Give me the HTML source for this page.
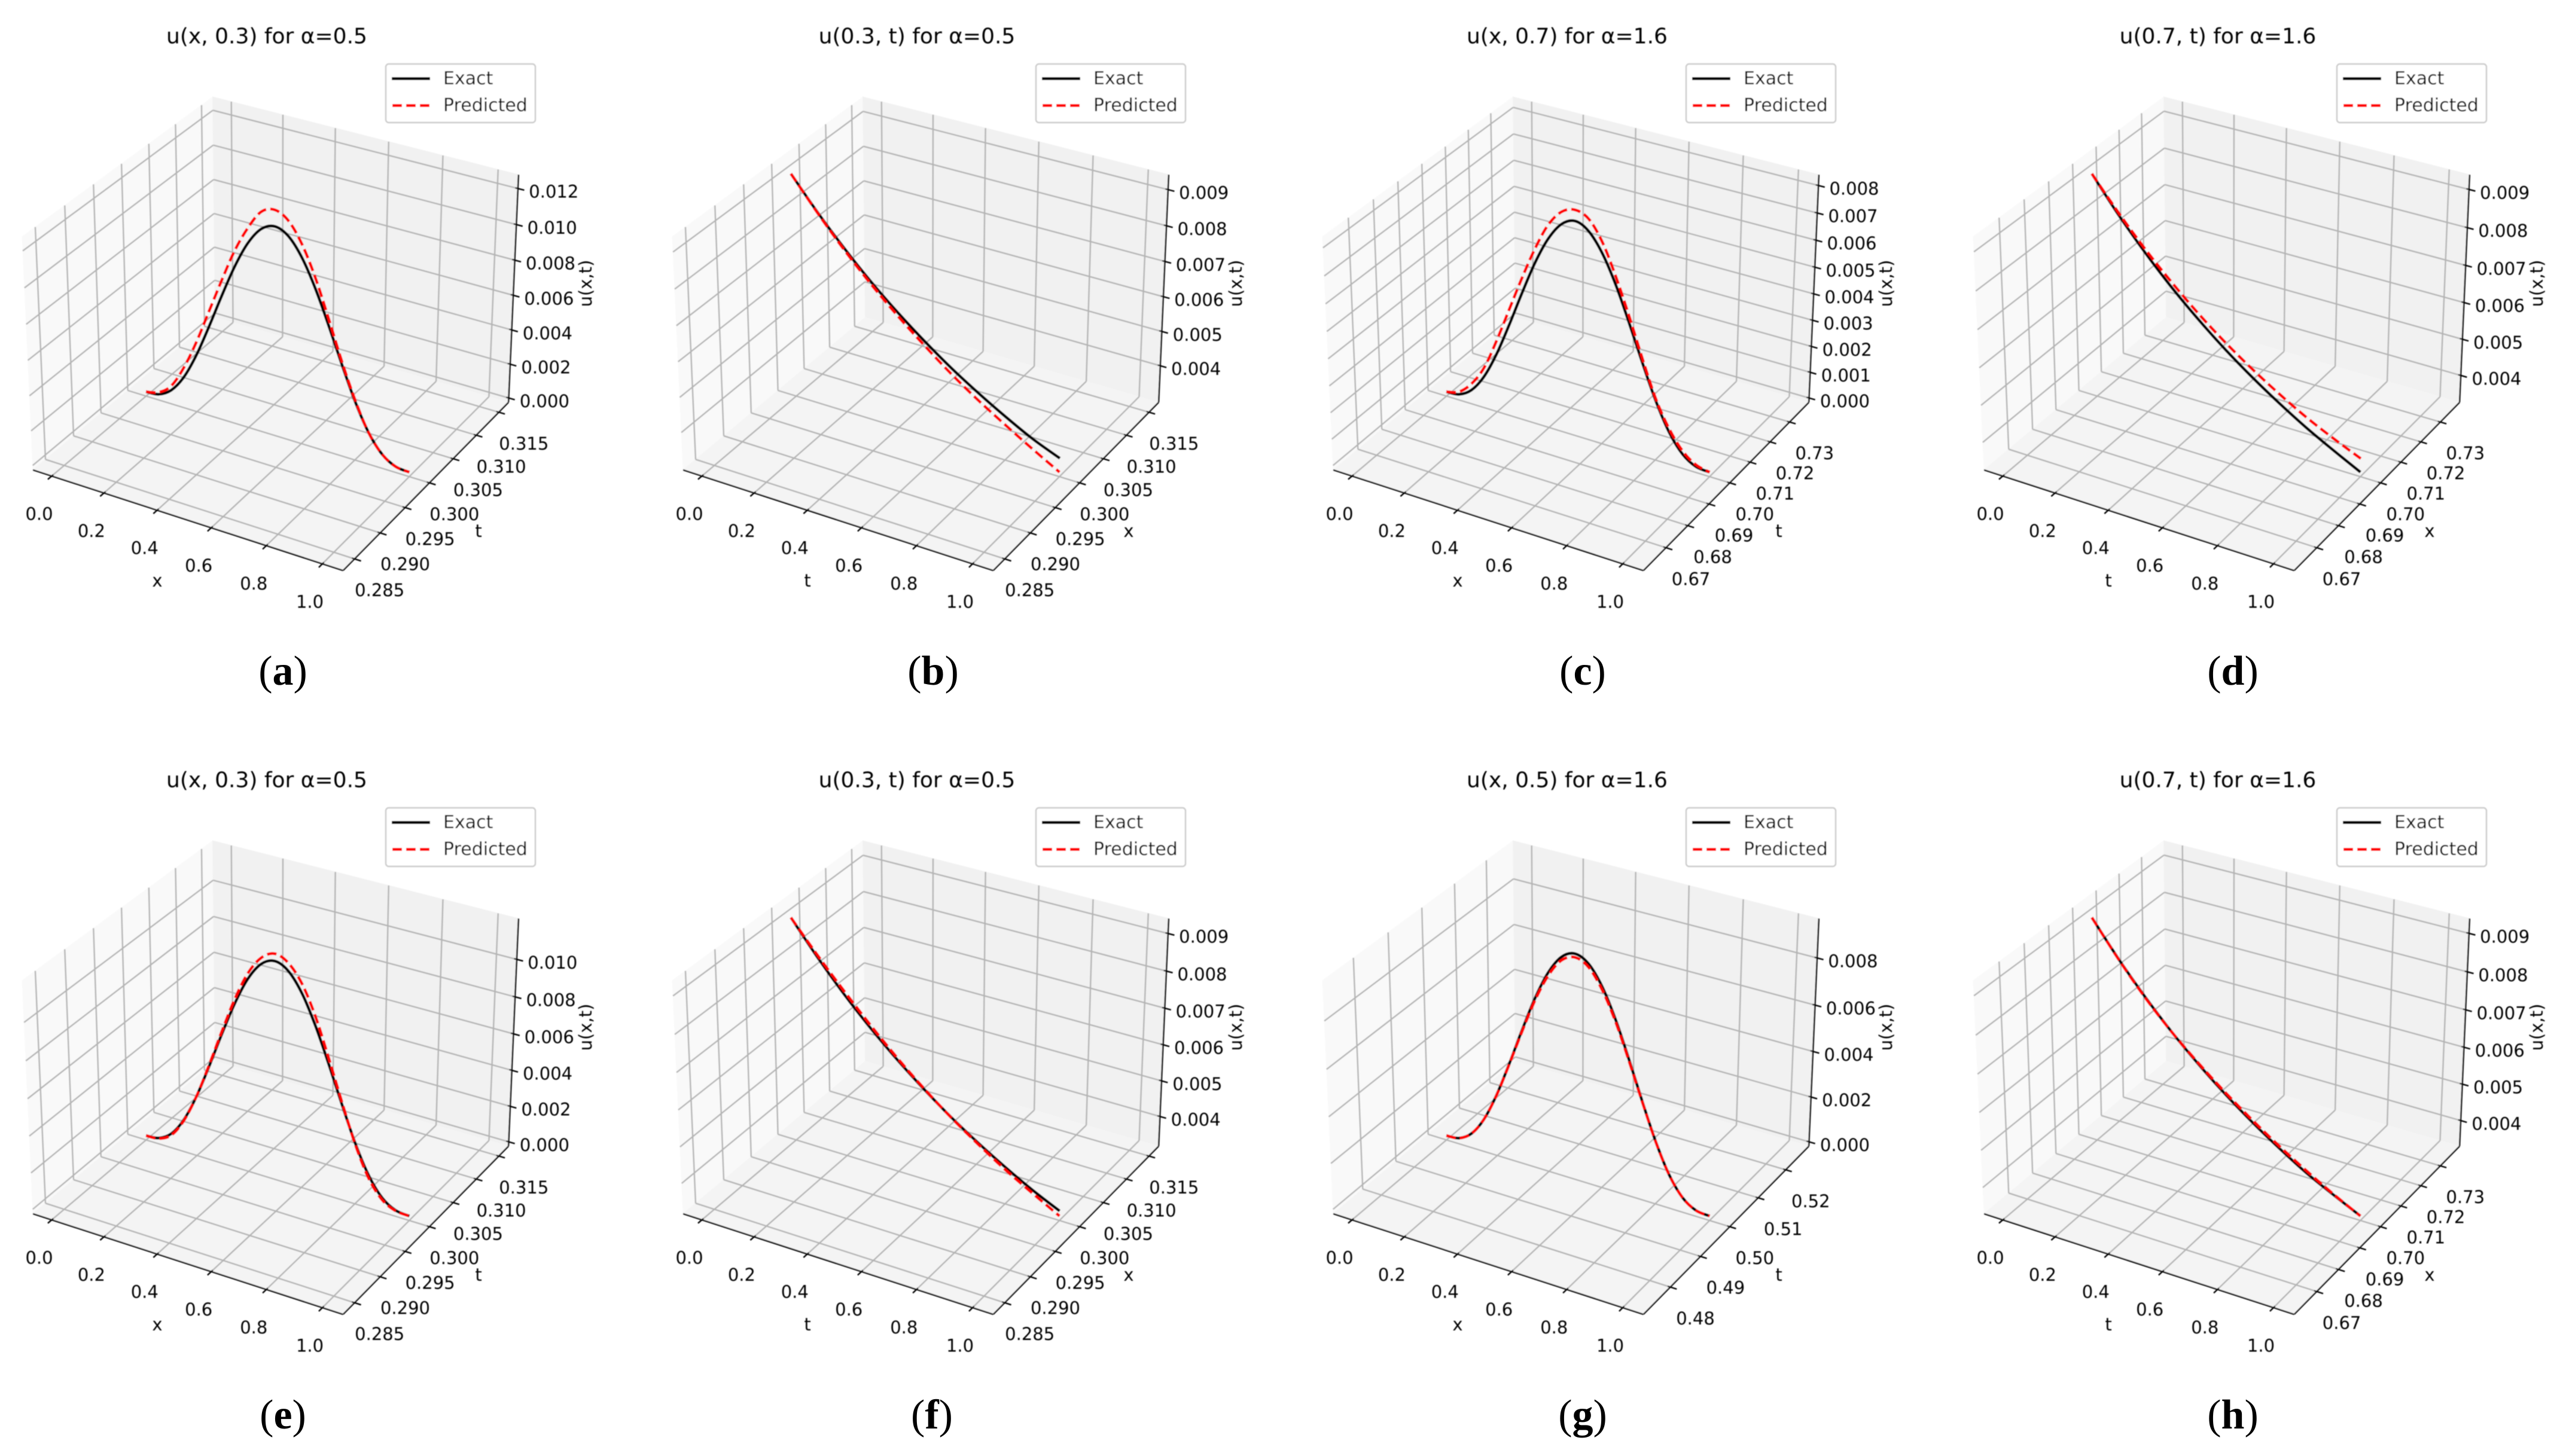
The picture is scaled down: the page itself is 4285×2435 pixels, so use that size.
<!DOCTYPE html>
<html lang="en">
<head>
<meta charset="utf-8">
<title>Exact vs predicted solution slices</title>
<style>
html,body{margin:0;padding:0;background:#fff;}
svg{display:block;}
text{font-family:"DejaVu Sans","Liberation Sans",sans-serif;fill:#000;}
.cap{font-family:"Liberation Serif",serif;font-size:70px;}
</style>
</head>
<body>
<svg id="figure" xmlns="http://www.w3.org/2000/svg" width="4285" height="2435" viewBox="0 0 4285 2435">
<defs>
<filter id="soft" filterUnits="userSpaceOnUse" x="-50" y="-50" width="1200" height="1200"><feGaussianBlur stdDeviation="0.8"/></filter>
</defs>
</svg>
<script>
// ---- shared coordinate samples ----
const xGrid21 = [0,.05,.1,.15,.2,.25,.3,.35,.4,.45,.5,.55,.6,.65,.7,.75,.8,.85,.9,.95,1];
const tGrid11 = [0,.1,.2,.3,.4,.5,.6,.7,.8,.9,1];

// ---- series values ----
const exactA = [0,.00008,.00055,.00154,.00304,.0049,.00688,.00875,.01027,.01126,.0116,.01126,.01027,.00875,.00688,.0049,.00304,.00154,.00055,.00008,0];
const predA  = [0,.0002,.0008,.00208,.00377,.00575,.00774,.00962,.0111,.0122,.0125,.0121,.011,.00933,.00724,.00506,.00312,.00154,.00055,.00008,0];
const exactB = [.00928,.0084,.0076,.00687,.00622,.00563,.00509,.00461,.00417,.00377,.00345];
const predB  = [.00928,.00838,.00755,.0068,.00612,.0055,.00492,.0044,.00393,.00348,.00305];
const exactC = [0,.00005,.00037,.00104,.00205,.0033,.00463,.00589,.00691,.00758,.00782,.00758,.00691,.00589,.00463,.0033,.00205,.00104,.00037,.00005,0];
const predC  = [0,.00015,.00061,.00137,.00254,.00386,.00518,.0064,.00741,.00802,.00822,.00802,.00731,.00619,.00487,.00345,.00213,.00117,.00049,.00012,0];
const exactD = [.00926,.00836,.00755,.00682,.00617,.00558,.00505,.00457,.00413,.00374,.00337];
const predD  = [.00926,.00842,.00765,.00696,.00633,.00577,.00527,.00482,.00441,.00406,.00374];
const exactE = [0,.00008,.00054,.00153,.00302,.00487,.00683,.00868,.0102,.01118,.01152,.01118,.0102,.00868,.00683,.00487,.00302,.00153,.00054,.00008,0];
const predE  = [0,.00005,.00046,.00148,.00302,.00494,.00697,.00891,.01049,.0115,.0119,.0116,.0107,.00916,.00713,.00499,.00295,.00137,.00043,.00005,0];
const exactF = [.00927,.00839,.00759,.00687,.00622,.00563,.00509,.00461,.00417,.00377,.00342];
const predF  = [.00927,.00845,.00768,.00695,.00627,.00565,.00508,.00457,.0041,.00368,.00328];
const exactG = [0,.00006,.00044,.00125,.00248,.00399,.0056,.00712,.00836,.00917,.00945,.00917,.00836,.00712,.0056,.00399,.00248,.00125,.00044,.00006,0];
const predG  = [0,.00006,.00044,.00125,.00247,.00397,.00554,.00703,.00823,.00903,.0093,.00903,.00823,.00703,.00554,.00397,.00247,.00125,.00044,.00006,0];
const exactH = [.00926,.00836,.00755,.00682,.00617,.00558,.00505,.00457,.00413,.00376,.00341];
const predH  = [.00926,.00835,.00753,.00682,.0062,.00563,.00511,.00463,.00419,.00378,.00341];

// ---- tick labels ----
const unitTicks = ['0.0','0.2','0.4','0.6','0.8','1.0'];
const sliceTicks03 = ['0.285','0.290','0.295','0.300','0.305','0.310','0.315'];
const sliceTicks07 = ['0.67','0.68','0.69','0.70','0.71','0.72','0.73'];
const sliceTicks05 = ['0.48','0.49','0.50','0.51','0.52'];
const zTicksA = ['0.000','0.002','0.004','0.006','0.008','0.010','0.012'];
const zTicksE = ['0.000','0.002','0.004','0.006','0.008','0.010'];
const zTicksC = ['0.000','0.001','0.002','0.003','0.004','0.005','0.006','0.007','0.008'];
const zTicksG = ['0.000','0.002','0.004','0.006','0.008'];
const zTicksT = ['0.004','0.005','0.006','0.007','0.008','0.009'];

// ---- axis limits ----
const unitLim = [-.05,1.05];
const sliceLim03 = [.2835,.3165];
const sliceLim07 = [.6615,.7385];
const sliceLim05 = [.4725,.5275];
const zLimA = [0,.0125];
const zLimB = [.00305,.00928];
const zLimC = [0,.00822];
const zLimD = [.00337,.00926];
const zLimE = [0,.0119];
const zLimF = [.00328,.00927];
const zLimG = [0,.00945];
const zLimH = [.00341,.00926];

// ---- panel wiring ----
const panels = [
 {id:'a',title:'u(x, 0.3) for α=0.5',h:'x',d:'t',slice:.3,sLim:sliceLim03,sT:sliceTicks03,zLim:zLimA,zT:zTicksA,grid:xGrid21,ex:exactA,pr:predA,col:0,row:0,capX:473},
 {id:'b',title:'u(0.3, t) for α=0.5',h:'t',d:'x',slice:.3,sLim:sliceLim03,sT:sliceTicks03,zLim:zLimB,zT:zTicksT,grid:tGrid11,ex:exactB,pr:predB,col:1,row:0,capX:473},
 {id:'c',title:'u(x, 0.7) for α=1.6',h:'x',d:'t',slice:.7,sLim:sliceLim07,sT:sliceTicks07,zLim:zLimC,zT:zTicksC,grid:xGrid21,ex:exactC,pr:predC,col:2,row:0,capX:472},
 {id:'d',title:'u(0.7, t) for α=1.6',h:'t',d:'x',slice:.7,sLim:sliceLim07,sT:sliceTicks07,zLim:zLimD,zT:zTicksT,grid:tGrid11,ex:exactD,pr:predD,col:3,row:0,capX:471},
 {id:'e',title:'u(x, 0.3) for α=0.5',h:'x',d:'t',slice:.3,sLim:sliceLim03,sT:sliceTicks03,zLim:zLimE,zT:zTicksE,grid:xGrid21,ex:exactE,pr:predE,col:0,row:1,capX:473},
 {id:'f',title:'u(0.3, t) for α=0.5',h:'t',d:'x',slice:.3,sLim:sliceLim03,sT:sliceTicks03,zLim:zLimF,zT:zTicksT,grid:tGrid11,ex:exactF,pr:predF,col:1,row:1,capX:471},
 {id:'g',title:'u(x, 0.5) for α=1.6',h:'x',d:'t',slice:.5,sLim:sliceLim05,sT:sliceTicks05,zLim:zLimG,zT:zTicksG,grid:xGrid21,ex:exactG,pr:predG,col:2,row:1,capX:472},
 {id:'h',title:'u(0.7, t) for α=1.6',h:'t',d:'x',slice:.7,sLim:sliceLim07,sT:sliceTicks07,zLim:zLimH,zT:zTicksT,grid:tGrid11,ex:exactH,pr:predH,col:3,row:1,capX:471}
];
const colOffsets = [0,1087,2174,3262];
const rowOffsets = [0,1244];

// ---- projection (elev 30, azim -60, perspective, box 4:4:3) ----
const NS = 'http://www.w3.org/2000/svg';
const BOX_A = 1.1428, BOX_C = 0.857, DIST = 10;
function project(xn, yn, zn) {
  const px = (xn - .5) * BOX_A, py = (yn - .5) * BOX_A, pz = (zn - .5) * BOX_C;
  const u = .8660254 * px + .5 * py;
  const v = -.25 * px + .4330127 * py + .8660254 * pz;
  const n = .4330127 * px - .75 * py + .5 * pz;
  const depth = DIST - n;
  return [459.6 + 5200 * u / depth, 539.8 - 5190 * v / depth];
}
function axisNorm(v, lim) {
  return .02 + .96 * (v - lim[0]) / (lim[1] - lim[0]);
}
function make(tag, attrs, parent, text) {
  const node = document.createElementNS(NS, tag);
  for (const k in attrs) node.setAttribute(k, attrs[k]);
  if (text !== undefined) node.textContent = text;
  parent.appendChild(node);
  return node;
}
function seg(parent, a, b, stroke, width) {
  const p = project(a[0], a[1], a[2]), q = project(b[0], b[1], b[2]);
  return make('line', {x1:p[0].toFixed(2),y1:p[1].toFixed(2),x2:q[0].toFixed(2),y2:q[1].toFixed(2),stroke:stroke,'stroke-width':width}, parent);
}
function pane(parent, corners, fill) {
  const pts = corners.map(c => project(c[0], c[1], c[2]).map(v => v.toFixed(2)).join(',')).join(' ');
  return make('polygon', {points:pts, fill:fill, stroke:fill, 'stroke-width':1}, parent);
}
function curvePath(pts) {
  let d = 'M' + pts[0][0].toFixed(2) + ' ' + pts[0][1].toFixed(2);
  for (let i = 0; i < pts.length - 1; i++) {
    const p0 = pts[Math.max(i - 1, 0)], p1 = pts[i], p2 = pts[i + 1], p3 = pts[Math.min(i + 2, pts.length - 1)];
    const c1 = [p1[0] + (p2[0] - p0[0]) / 6, p1[1] + (p2[1] - p0[1]) / 6];
    const c2 = [p2[0] - (p3[0] - p1[0]) / 6, p2[1] - (p3[1] - p1[1]) / 6];
    d += 'C' + c1[0].toFixed(2) + ' ' + c1[1].toFixed(2) + ' ' + c2[0].toFixed(2) + ' ' + c2[1].toFixed(2) + ' ' + p2[0].toFixed(2) + ' ' + p2[1].toFixed(2);
  }
  return d;
}

const GRID = '#b4b4b4', GW = 2.4, AXW = 2.4, LW = 4.8;
const figure = document.getElementById('figure');

panels.forEach(function (P) {
  const dx = colOffsets[P.col], dy = rowOffsets[P.row];
  const root = make('g', {transform:'translate(' + dx + ' ' + dy + ')'}, figure);
  
  
  const g = make('g', {filter:'url(#soft)'}, root);

  // panes
  const leftPane = pane(g, [[0,0,0],[0,1,0],[0,1,1],[0,0,1]], '#f9f9f9');
  
  
  const backPane = pane(g, [[0,1,0],[1,1,0],[1,1,1],[0,1,1]], '#f1f1f1');
  
  
  const floorPane = pane(g, [[0,0,0],[1,0,0],[1,1,0],[0,1,0]], '#f4f4f4');
  
  

  // grid
  const gridG = make('g', {}, g);
  
  
  unitTicks.forEach(function (lab) {
    const xn = axisNorm(parseFloat(lab), unitLim);
    seg(gridG, [xn,0,0], [xn,1,0], GRID, GW);
    seg(gridG, [xn,1,0], [xn,1,1], GRID, GW);
  });
  P.sT.forEach(function (lab) {
    const yn = axisNorm(parseFloat(lab), P.sLim);
    seg(gridG, [0,yn,0], [1,yn,0], GRID, GW);
    seg(gridG, [0,yn,0], [0,yn,1], GRID, GW);
  });
  P.zT.forEach(function (lab) {
    const zn = axisNorm(parseFloat(lab), P.zLim);
    seg(gridG, [0,0,zn], [0,1,zn], GRID, GW);
    seg(gridG, [0,1,zn], [1,1,zn], GRID, GW);
  });

  // axis lines
  const xAxis = seg(g, [0,0,0], [1,0,0], '#000', AXW);
  
  
  const yAxis = seg(g, [1,0,0], [1,1,0], '#000', AXW);
  
  
  const zAxis = seg(g, [1,1,0], [1,1,1], '#000', AXW);
  
  

  // ticks and tick labels
  unitTicks.forEach(function (lab) {
    const xn = axisNorm(parseFloat(lab), unitLim);
    seg(g, [xn,-.02,0], [xn,.008,0], '#000', AXW);
    const pos = project(xn, 0, 0);
    const t = make('text', {x:(pos[0] - 21).toFixed(1), y:(pos[1] + 63.5).toFixed(1), 'font-size':29, 'text-anchor':'middle', 'dominant-baseline':'central'}, g, lab);
    
    
  });
  P.sT.forEach(function (lab) {
    const yn = axisNorm(parseFloat(lab), P.sLim);
    seg(g, [.992,yn,0], [1.02,yn,0], '#000', AXW);
    const pos = project(1, yn, 0);
    const t = make('text', {x:(pos[0] + 42).toFixed(1), y:(pos[1] + 52.5).toFixed(1), 'font-size':29, 'text-anchor':'middle', 'dominant-baseline':'central'}, g, lab);
    
    
  });
  P.zT.forEach(function (lab) {
    const zn = axisNorm(parseFloat(lab), P.zLim);
    seg(g, [.992,1,zn], [1.02,1,zn], '#000', AXW);
    const pos = project(1, 1, zn);
    const t = make('text', {x:(pos[0] + 60).toFixed(1), y:(pos[1] + 5.5).toFixed(1), 'font-size':29, 'text-anchor':'middle', 'dominant-baseline':'central'}, g, lab);
    
    
  });

  // series
  const yn = axisNorm(P.slice, P.sLim);
  const exactPts = P.grid.map(function (v, i) { return project(axisNorm(v, unitLim), yn, axisNorm(P.ex[i], P.zLim)); });
  const predPts = P.grid.map(function (v, i) { return project(axisNorm(v, unitLim), yn, axisNorm(P.pr[i], P.zLim)); });
  const exactLine = make('path', {d:curvePath(exactPts), fill:'none', stroke:'#000', 'stroke-width':LW}, g);
  
  
  const predLine = make('path', {d:curvePath(predPts), fill:'none', stroke:'#ff0000', 'stroke-width':LW, 'stroke-dasharray':'16 7'}, g);
  
  

  // title and axis titles
  const title = make('text', {x:446, y:61, 'font-size':36, 'text-anchor':'middle', 'dominant-baseline':'central'}, g, P.title);
  
  
  const hTitle = make('text', {x:263, y:971, 'font-size':29, 'text-anchor':'middle', 'dominant-baseline':'central'}, g, P.h);
  
  
  const dTitle = make('text', {x:800, y:888, 'font-size':29, 'text-anchor':'middle', 'dominant-baseline':'central'}, g, P.d);
  
  
  const zTitle = make('text', {x:0, y:0, 'font-size':29, 'text-anchor':'middle', 'dominant-baseline':'central', transform:'translate(979 474) rotate(-90)'}, g, 'u(x,t)');
  
  

  // legend
  const legend = make('g', {}, g);
  
  
  make('rect', {x:645, y:107, width:250, height:98, rx:5, ry:5, fill:'#fff', 'fill-opacity':.8, stroke:'#cccccc', 'stroke-width':2.4}, legend);
  const lgExactLine = make('line', {x1:655, y1:131.5, x2:719, y2:131.5, stroke:'#000', 'stroke-width':LW}, legend);
  
  
  const lgExactText = make('text', {x:741, y:131.5, 'font-size':30, 'dominant-baseline':'central'}, legend, 'Exact');
  
  
  const lgPredLine = make('line', {x1:656, y1:176.5, x2:719, y2:176.5, stroke:'#ff0000', 'stroke-width':LW, 'stroke-dasharray':'16 7'}, legend);
  
  
  const lgPredText = make('text', {x:741, y:176.5, 'font-size':30, 'dominant-baseline':'central'}, legend, 'Predicted');
  
  

  // caption
  const cap = make('text', {class:'cap', x:P.capX, y:1122, 'text-anchor':'middle', 'dominant-baseline':'central'}, root);
  
  
  make('tspan', {}, cap, '(');
  make('tspan', {'font-weight':'bold'}, cap, P.id);
  make('tspan', {}, cap, ')');
});
</script>
</body>
</html>
